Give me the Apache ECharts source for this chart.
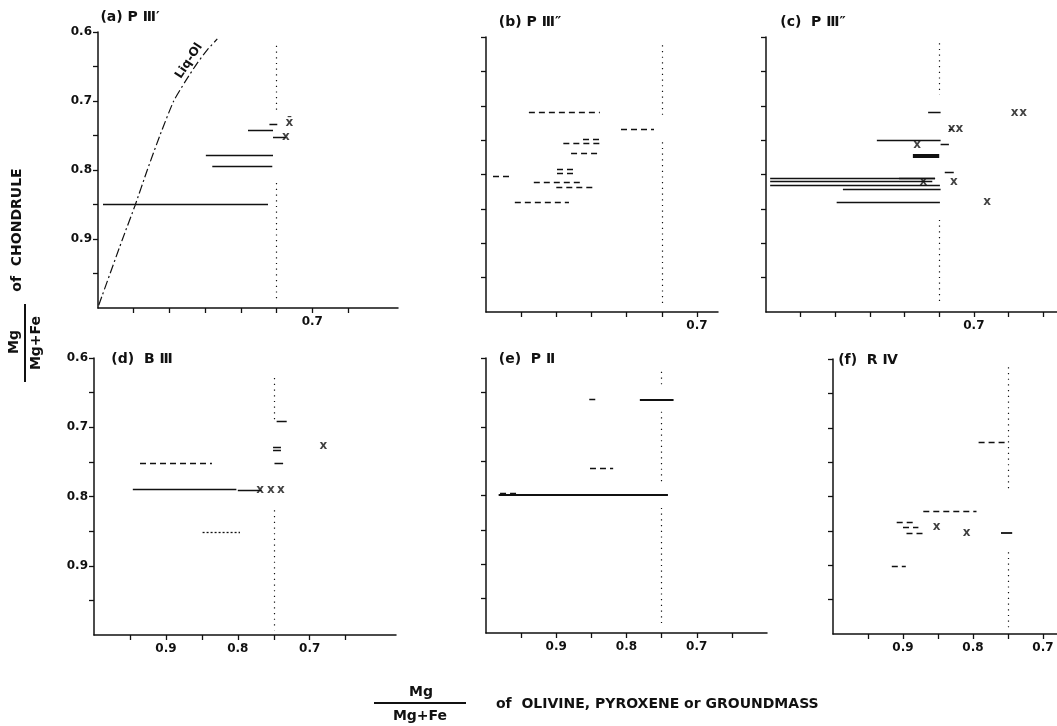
<!DOCTYPE html>
<html>
<head>
<meta charset="utf-8">
<script src="https://cdn.jsdelivr.net/npm/echarts@6/dist/echarts.min.js"></script>
<style>
  html, body { margin: 0; padding: 0; background: #fff; }
  #chart { width: 1057px; height: 726px; }
</style>
</head>
<body>
<div id="chart"></div>
<script>
// Mg/(Mg+Fe) of chondrule (y) vs olivine, pyroxene or groundmass (x)
// segments are [y, xFrom, xTo], crosses are [x, y], dotted guides are [yFrom, yTo] at x = 0.75

const yTicks = [0.6, 0.65, 0.7, 0.75, 0.8, 0.85, 0.9, 0.95];
const yLabels = [0.6, 0.7, 0.8, 0.9];
const xLabelsTop = [0.7];
const xLabelsBottom = [0.9, 0.8, 0.7];
const guideX = 0.75;

// (a) P III'
const aSolid = [[0.850, 0.993, 0.762], [0.778, 0.849, 0.755], [0.794, 0.840, 0.756],
                [0.742, 0.790, 0.755], [0.733, 0.760, 0.749], [0.752, 0.755, 0.737]];
const aCross = [[0.737, 0.752]];
const aMean = [[0.732, 0.732]];
const aDots = [[0.620, 0.713], [0.819, 0.990]];
const liqOlX = [0.999, 0.966, 0.948, 0.931, 0.913, 0.894, 0.878, 0.861, 0.847, 0.833];
const liqOlY = [0.996, 0.901, 0.851, 0.800, 0.749, 0.700, 0.672, 0.645, 0.626, 0.610];

// (b) P III''
const bDash = [[0.709, 0.939, 0.838], [0.734, 0.808, 0.761], [0.748, 0.862, 0.836],
               [0.755, 0.890, 0.838], [0.769, 0.879, 0.838], [0.793, 0.899, 0.876],
               [0.798, 0.899, 0.876], [0.803, 0.990, 0.967], [0.811, 0.932, 0.861],
               [0.818, 0.900, 0.846], [0.840, 0.959, 0.882]];
const bDots = [[0.612, 0.716], [0.753, 0.992]];

// (c) P III''
const cSolid = [[0.710, 0.766, 0.748], [0.734, 0.736, 0.731], [0.750, 0.840, 0.748],
                [0.756, 0.748, 0.736], [0.796, 0.742, 0.729], [0.805, 0.994, 0.756],
                [0.810, 0.994, 0.760], [0.815, 0.994, 0.749], [0.806, 0.808, 0.756],
                [0.821, 0.889, 0.748], [0.841, 0.898, 0.749]];
const cThick = [[0.773, 0.788, 0.750]];
const cCross = [[0.782, 0.757], [0.732, 0.734], [0.721, 0.734], [0.773, 0.811],
                [0.729, 0.811], [0.681, 0.840], [0.641, 0.710], [0.629, 0.710]];
const cDots = [[0.609, 0.684], [0.866, 0.990]];

// (d) B III
const dSolid = [[0.789, 0.946, 0.802], [0.791, 0.800, 0.767], [0.691, 0.746, 0.732],
                [0.729, 0.751, 0.740], [0.733, 0.751, 0.740], [0.752, 0.749, 0.737]];
const dDash = [[0.752, 0.936, 0.836]];
const dDotted = [[0.851, 0.849, 0.797]];
const dCross = [[0.769, 0.791], [0.754, 0.791], [0.740, 0.791], [0.681, 0.727]];
const dDots = [[0.629, 0.690], [0.820, 0.993]];

// (e) P II
const eSolid = [[0.660, 0.781, 0.733], [0.799, 0.982, 0.741]];
const eDash = [[0.660, 0.853, 0.841], [0.760, 0.852, 0.819], [0.797, 0.980, 0.957]];
const eDots = [[0.620, 0.642], [0.678, 0.782], [0.818, 0.991]];

// (f) R IV
const fSolid = [[0.853, 0.760, 0.744]];
const fDash = [[0.721, 0.792, 0.751], [0.821, 0.871, 0.795], [0.837, 0.909, 0.885],
               [0.845, 0.900, 0.878], [0.853, 0.895, 0.872], [0.901, 0.916, 0.896]];
const fCross = [[0.852, 0.844], [0.809, 0.853]];
const fDots = [[0.612, 0.790], [0.881, 0.990]];

const ink = '#111';
const font = 'DejaVu Sans';

const panels = [
    {grid: {left: 98, top: 32, width: 300, height: 276}, xMin: 0.58, ticks: [0.95, 0.9, 0.85, 0.8, 0.75, 0.7, 0.65], labels: xLabelsTop, yLab: true},
    {grid: {left: 486, top: 37, width: 232, height: 275}, xMin: 0.67, ticks: [0.95, 0.9, 0.85, 0.8, 0.75, 0.7], labels: xLabelsTop, yLab: false},
    {grid: {left: 766, top: 37, width: 291, height: 275}, xMin: 0.58, ticks: [0.95, 0.9, 0.85, 0.8, 0.75, 0.7, 0.65, 0.6], labels: xLabelsTop, yLab: false},
    {grid: {left: 94, top: 358, width: 302, height: 277}, xMin: 0.58, ticks: [0.95, 0.9, 0.85, 0.8, 0.75, 0.7, 0.65], labels: xLabelsBottom, yLab: true},
    {grid: {left: 486, top: 358, width: 281, height: 275}, xMin: 0.6, ticks: [0.95, 0.9, 0.85, 0.8, 0.75, 0.7, 0.65], labels: xLabelsBottom, yLab: false},
    {grid: {left: 833, top: 359, width: 224, height: 275}, xMin: 0.68, ticks: [0.95, 0.9, 0.85, 0.8, 0.75, 0.7], labels: xLabelsBottom, yLab: false}
];

function hSegs(list) {
    return list.map(s => ({coords: [[s[1], s[0]], [s[2], s[0]]]}));
}

function vSegs(list) {
    return list.map(s => ({coords: [[guideX, s[0]], [guideX, s[1]]]}));
}

function segSeries(i, list, type, width) {
    return {
        type: 'lines',
        coordinateSystem: 'cartesian2d',
        xAxisIndex: i,
        yAxisIndex: i,
        silent: true,
        lineStyle: {color: ink, width: width || 1.3, type: type, opacity: 1},
        data: hSegs(list)
    };
}

function guideSeries(i, list) {
    return {
        type: 'lines',
        coordinateSystem: 'cartesian2d',
        xAxisIndex: i,
        yAxisIndex: i,
        silent: true,
        lineStyle: {color: ink, width: 1.2, type: [1.2, 4.5], opacity: 1},
        data: vSegs(list)
    };
}

function crossSeries(i, list, mark) {
    return {
        type: 'scatter',
        xAxisIndex: i,
        yAxisIndex: i,
        symbolSize: 2,
        itemStyle: {color: 'transparent'},
        label: {
            show: true,
            position: 'inside',
            formatter: mark || 'x',
            color: ink,
            fontFamily: font,
            fontWeight: 'bold',
            fontSize: 12
        },
        data: list
    };
}

const dashed = [6, 4];

const series = [
    segSeries(0, aSolid, 'solid'),
    crossSeries(0, aCross),
    crossSeries(0, aMean, 'x\u0304'),
    guideSeries(0, aDots),
    {
        type: 'line',
        xAxisIndex: 0,
        yAxisIndex: 0,
        symbol: 'none',
        smooth: 0.2,
        lineStyle: {color: ink, width: 1.2, type: [9, 3, 2, 3]},
        data: liqOlX.map((x, k) => [x, liqOlY[k]])
    },

    segSeries(1, bDash, dashed),
    guideSeries(1, bDots),

    segSeries(2, cSolid, 'solid'),
    segSeries(2, cThick, 'solid', 4),
    crossSeries(2, cCross),
    guideSeries(2, cDots),

    segSeries(3, dSolid, 'solid'),
    segSeries(3, dDash, dashed),
    segSeries(3, dDotted, [2, 2]),
    crossSeries(3, dCross),
    guideSeries(3, dDots),

    segSeries(4, eSolid, 'solid', 1.8),
    segSeries(4, eDash, dashed),
    guideSeries(4, eDots),

    segSeries(5, fSolid, 'solid', 1.8),
    segSeries(5, fDash, dashed),
    crossSeries(5, fCross),
    guideSeries(5, fDots)
];

const labelStyle = {color: ink, fontFamily: font, fontWeight: 'bold', fontSize: 12};

function txt(x, y, text, size, extra) {
    return Object.assign({
        type: 'text', x: x, y: y,
        style: {text: text, font: 'bold ' + size + 'px ' + font, fill: ink, align: 'center', verticalAlign: 'middle'}
    }, extra || {});
}

const option = {
    animation: false,
    backgroundColor: '#fff',
    grid: panels.map(p => p.grid),
    xAxis: panels.map((p, i) => ({
        type: 'value',
        gridIndex: i,
        inverse: true,
        min: p.xMin,
        max: 1.0,
        splitLine: {show: false},
        axisLine: {show: true, onZero: false, lineStyle: {color: ink, width: 1.5}},
        axisTick: {show: true, inside: false, length: 5, customValues: p.ticks, lineStyle: {color: ink, width: 1.3}},
        axisLabel: Object.assign({
            customValues: p.labels,
            margin: 8,
            formatter: v => v.toFixed(1)
        }, labelStyle)
    })),
    yAxis: panels.map((p, i) => ({
        type: 'value',
        gridIndex: i,
        inverse: true,
        min: 0.6,
        max: 1.0,
        splitLine: {show: false},
        axisLine: {show: true, onZero: false, lineStyle: {color: ink, width: 1.5}},
        axisTick: {show: true, inside: false, length: 5, customValues: yTicks, lineStyle: {color: ink, width: 1.3}},
        axisLabel: Object.assign({
            show: p.yLab,
            customValues: yLabels,
            margin: 6,
            formatter: v => v.toFixed(1)
        }, labelStyle)
    })),
    series: series,
    graphic: [
        txt(130, 17, '(a) P \u2162\u2032', 14),
        txt(530, 22, '(b) P \u2162\u2033', 14),
        txt(813, 22, '(c)  P \u2162\u2033', 14),
        txt(142, 359, '(d)  B \u2162', 14),
        txt(527, 359, '(e)  P \u2161', 14),
        txt(868, 360, '(f)  R \u2163', 14),
        txt(189, 61, 'Liq-Ol', 12, {rotation: 57 * Math.PI / 180}),
        // y axis title
        txt(17, 230, 'of  CHONDRULE', 14, {rotation: Math.PI / 2}),
        txt(14, 342, 'Mg', 14, {rotation: Math.PI / 2}),
        {type: 'line', shape: {x1: 25, y1: 304, x2: 25, y2: 382}, style: {stroke: ink, lineWidth: 2}},
        txt(36, 343, 'Mg+Fe', 14, {rotation: Math.PI / 2}),
        // x axis title
        txt(421, 692, 'Mg', 14),
        {type: 'line', shape: {x1: 374, y1: 703, x2: 466, y2: 703}, style: {stroke: ink, lineWidth: 2}},
        txt(420, 716, 'Mg+Fe', 14),
        {
            type: 'text', x: 496, y: 704,
            style: {text: 'of  OLIVINE, PYROXENE or GROUNDMASS', font: 'bold 14px ' + font, fill: ink, align: 'left', verticalAlign: 'middle'}
        }
    ]
};

const chart = echarts.init(document.getElementById('chart'));
chart.setOption(option);
</script>
</body>
</html>
